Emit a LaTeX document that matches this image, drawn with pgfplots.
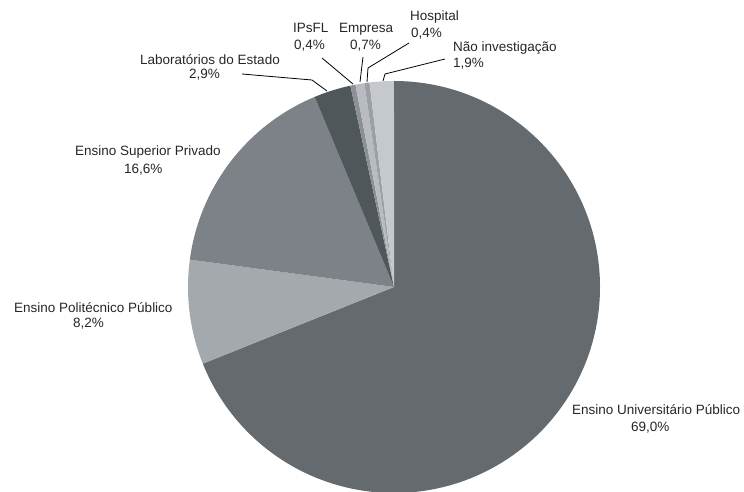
\documentclass[border=0pt]{standalone}
\usepackage{pgfplots}
\pgfplotsset{compat=1.18}
\usepackage{pgfplotstable}
\usepackage{fontspec}
\setmainfont{Liberation Sans}

\definecolor{cUni}{HTML}{646A6D}
\definecolor{cPol}{HTML}{A4A9AE}
\definecolor{cSup}{HTML}{7C8287}
\definecolor{cLab}{HTML}{50575B}
\definecolor{cIps}{HTML}{8A9095}
\definecolor{cEmp}{HTML}{B8BCC1}
\definecolor{cHos}{HTML}{9AA0A5}
\definecolor{cNao}{HTML}{C5C8CD}

% share of each group, in %, clockwise from the top
\pgfplotstableread[col sep=comma]{
name,value,colour
Universitario,69.0,cUni
Politecnico,8.2,cPol
Superior,16.6,cSup
Laboratorios,2.9,cLab
IPsFL,0.4,cIps
Empresa,0.7,cEmp
Hospital,0.4,cHos
Nao,1.9,cNao
}\piedata

\begin{document}
\begin{tikzpicture}
\begin{axis}[
  scale only axis,
  width=744pt, height=491pt,
  xmin=0, xmax=744, ymin=0, ymax=491,
  hide axis, clip=false,
]
  % slices
  \def\cum{0}
  \pgfplotsforeachungrouped \i in {0,...,7}{%
    \pgfplotstablegetelem{\i}{value}\of\piedata \let\sliceval\pgfplotsretval
    \pgfplotstablegetelem{\i}{colour}\of\piedata \let\slicecol\pgfplotsretval
    \pgfmathsetmacro\sa{90-3.6*\cum/1.001}
    \pgfmathsetmacro\cum{\cum+\sliceval}
    \pgfmathsetmacro\ea{90-3.6*\cum/1.001}
    \edef\temp{\noexpand\fill[\slicecol] (axis cs:394,204) -- ++(\sa:206pt)
      arc[start angle=\sa, end angle=\ea, radius=206pt] -- cycle;}
    \temp
  }

  % labels
  \tikzset{lab/.style={anchor=base west, inner sep=0pt, font=\fontsize{13.5}{17}\selectfont, text=black!85}}
  \node[lab] at (axis cs:572,77) {Ensino Universitário Público};
  \node[lab] at (axis cs:631,60) {69,0\%};
  \node[lab] at (axis cs:14,179) {Ensino Politécnico Público};
  \node[lab] at (axis cs:73,164) {8,2\%};
  \node[lab] at (axis cs:75,335) {Ensino Superior Privado};
  \node[lab] at (axis cs:124,318) {16,6\%};
  \node[lab] at (axis cs:140,426) {Laboratórios do Estado};
  \node[lab] at (axis cs:189,412) {2,9\%};
  \node[lab] at (axis cs:293,458) {IPsFL};
  \node[lab] at (axis cs:294,441) {0,4\%};
  \node[lab] at (axis cs:339,458) {Empresa};
  \node[lab] at (axis cs:350,441) {0,7\%};
  \node[lab] at (axis cs:410,470) {Hospital};
  \node[lab] at (axis cs:411,453) {0,4\%};
  \node[lab] at (axis cs:453,439) {Não investigação};
  \node[lab] at (axis cs:453,423) {1,9\%};

  % leader lines
  \draw[black, line width=0.8pt] (axis cs:242,417) -- (axis cs:312,411) -- (axis cs:327,400);
  \draw[black, line width=0.8pt] (axis cs:322,433) -- (axis cs:353,407);
  \draw[black, line width=0.8pt] (axis cs:363,434) -- (axis cs:360,409);
  \draw[black, line width=0.8pt] (axis cs:409,448) -- (axis cs:368,423) -- (axis cs:367,409);
  \draw[black, line width=0.8pt] (axis cs:445,432) -- (axis cs:385,417) -- (axis cs:383,410);
\end{axis}
\pgfresetboundingbox
\path (current axis.south west) rectangle (current axis.north east);
\end{tikzpicture}
\end{document}
